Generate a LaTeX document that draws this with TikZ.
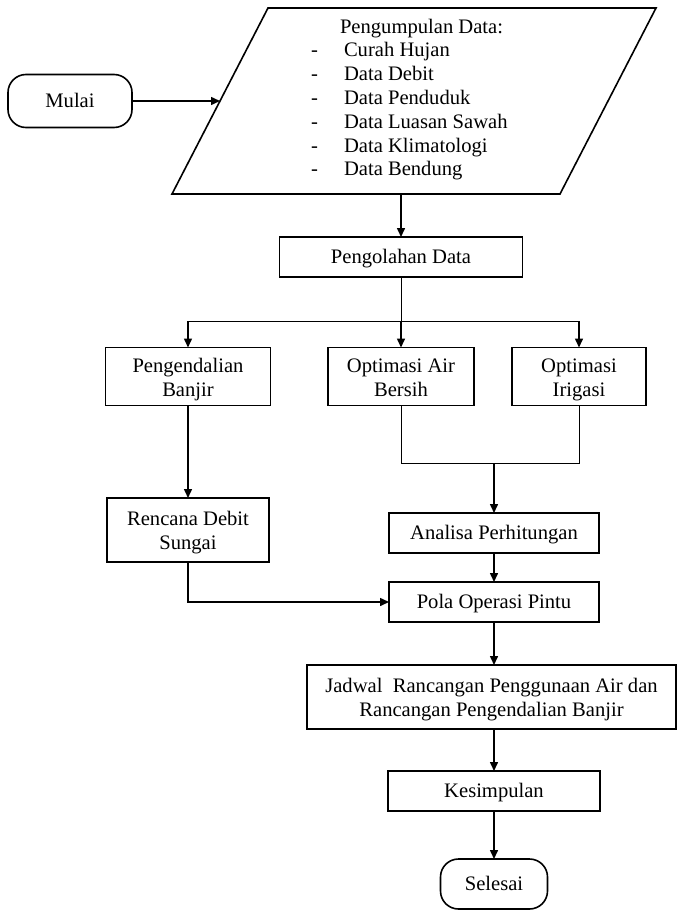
\documentclass[tikz,border=0pt]{standalone}
\usepackage{fontspec}
\setmainfont{Liberation Serif}
\usetikzlibrary{calc,
	arrows.meta,
	positioning
}
\tikzset{Flowchart/.style = {
		x=0.5pt, y=-0.5pt,
		every node/.style = {inner sep=0pt, outer sep=0pt, align=center,
			font=\fontsize{10.3pt}{11.8pt}\selectfont
		},
		oneline/.style = {text height=7.5pt, text depth=1.5pt},
		twoline/.style = {text height=21pt, text depth=1.5pt},
		process/.style = {rectangle, draw, line width=0.8pt, oneline},
		terminal/.style = {rectangle, draw, line width=0.8pt, rounded corners=9pt, oneline},
		itemtext/.style = {anchor=base west, align=left},
		inputbox/.style = {line width=0.8pt, line join=miter},
		flowline/.style = {line width=0.5pt},
		flowarrow/.style = {line width=0.75pt,
			-{Triangle[length=4.5pt,width=4pt]}
		}
	}% end of Flowchart style
}

\begin{document}
\begin{tikzpicture}[Flowchart]
  \useasboundingbox (0,0) rectangle (677,910);

  \node[terminal, minimum width=62pt, minimum height=26.5pt] (mulai) at (70,101) {Mulai};

  % input data
  \coordinate (dTL) at (268,8);
  \coordinate (dTR) at (656,8);
  \coordinate (dBR) at (560,194);
  \coordinate (dBL) at (172,194);
  \coordinate (dL) at ($(dTL)!0.5!(dBL)$);
  \coordinate (dB) at (401,194);
  \draw[inputbox] (dTL) -- (dTR) -- (dBR) -- (dBL) -- cycle;
  \node[itemtext] (dhead) at (340,33) {Pengumpulan Data:};
  \node[itemtext] (dash1) at (311,56.8) {-};
  \node[itemtext] (item1) at (344,56.8) {Curah Hujan};
  \node[itemtext] (dash2) at (311,80.6) {-};
  \node[itemtext] (item2) at (344,80.6) {Data Debit};
  \node[itemtext] (dash3) at (311,104.4) {-};
  \node[itemtext] (item3) at (344,104.4) {Data Penduduk};
  \node[itemtext] (dash4) at (311,128.2) {-};
  \node[itemtext] (item4) at (344,128.2) {Data Luasan Sawah};
  \node[itemtext] (dash5) at (311,152) {-};
  \node[itemtext] (item5) at (344,152) {Data Klimatologi};
  \node[itemtext] (dash6) at (311,175.8) {-};
  \node[itemtext] (item6) at (344,175.8) {Data Bendung};

  \node[process, minimum width=121.5pt, minimum height=20pt] (olah) at (401,257) {Pengolahan Data};

  \node[process, twoline, minimum width=82.5pt, minimum height=29pt] (banjir) at (188,376.5) {Pengendalian\\Banjir};
  \node[process, twoline, minimum width=73pt, minimum height=29pt] (air) at (401,376.5) {Optimasi Air\\Bersih};
  \node[process, twoline, minimum width=67pt, minimum height=29pt] (irigasi) at (579,376.5) {Optimasi\\Irigasi};

  \node[process, twoline, minimum width=81pt, minimum height=32pt] (rencana) at (188,530) {Rencana Debit\\Sungai};
  \node[process, minimum width=105pt, minimum height=20pt] (analisa) at (494,533) {Analisa Perhitungan};
  \node[process, minimum width=105pt, minimum height=20pt] (pola) at (494,602) {Pola Operasi Pintu};

  \node[process, twoline, minimum width=184.5pt, minimum height=32pt] (jadwal) at (491.5,697) {Jadwal~ Rancangan Penggunaan Air dan\\Rancangan Pengendalian Banjir};
  \node[process, minimum width=106pt, minimum height=20pt] (simpul) at (494,791) {Kesimpulan};
  \node[terminal, minimum width=53.5pt, minimum height=25pt] (selesai) at (494,884) {Selesai};

  \coordinate (split) at (401,321);
  \coordinate (merge) at (494,463);

  \draw[flowarrow] (mulai) -- (dL);
  \draw[flowarrow] (dB) -- (dB |- olah.north);
  \draw[flowline] (olah) -- (split);
  \draw[flowline] (split -| banjir) -- (split -| irigasi);
  \draw[flowarrow] (split -| banjir) -- (banjir);
  \draw[flowarrow] (split) -- (air);
  \draw[flowarrow] (split -| irigasi) -- (irigasi);
  \draw[flowarrow] (banjir) -- (rencana);
  \draw[flowline] (air) |- (irigasi |- merge) -- (irigasi);
  \draw[flowarrow] (merge) -- (analisa);
  \draw[flowarrow] (analisa) -- (pola);
  \draw[flowarrow] (rencana) |- (pola);
  \draw[flowarrow] (pola) -- (pola |- jadwal.north);
  \draw[flowarrow] (simpul |- jadwal.south) -- (simpul);
  \draw[flowarrow] (simpul) -- (selesai);
\end{tikzpicture}
\end{document}
